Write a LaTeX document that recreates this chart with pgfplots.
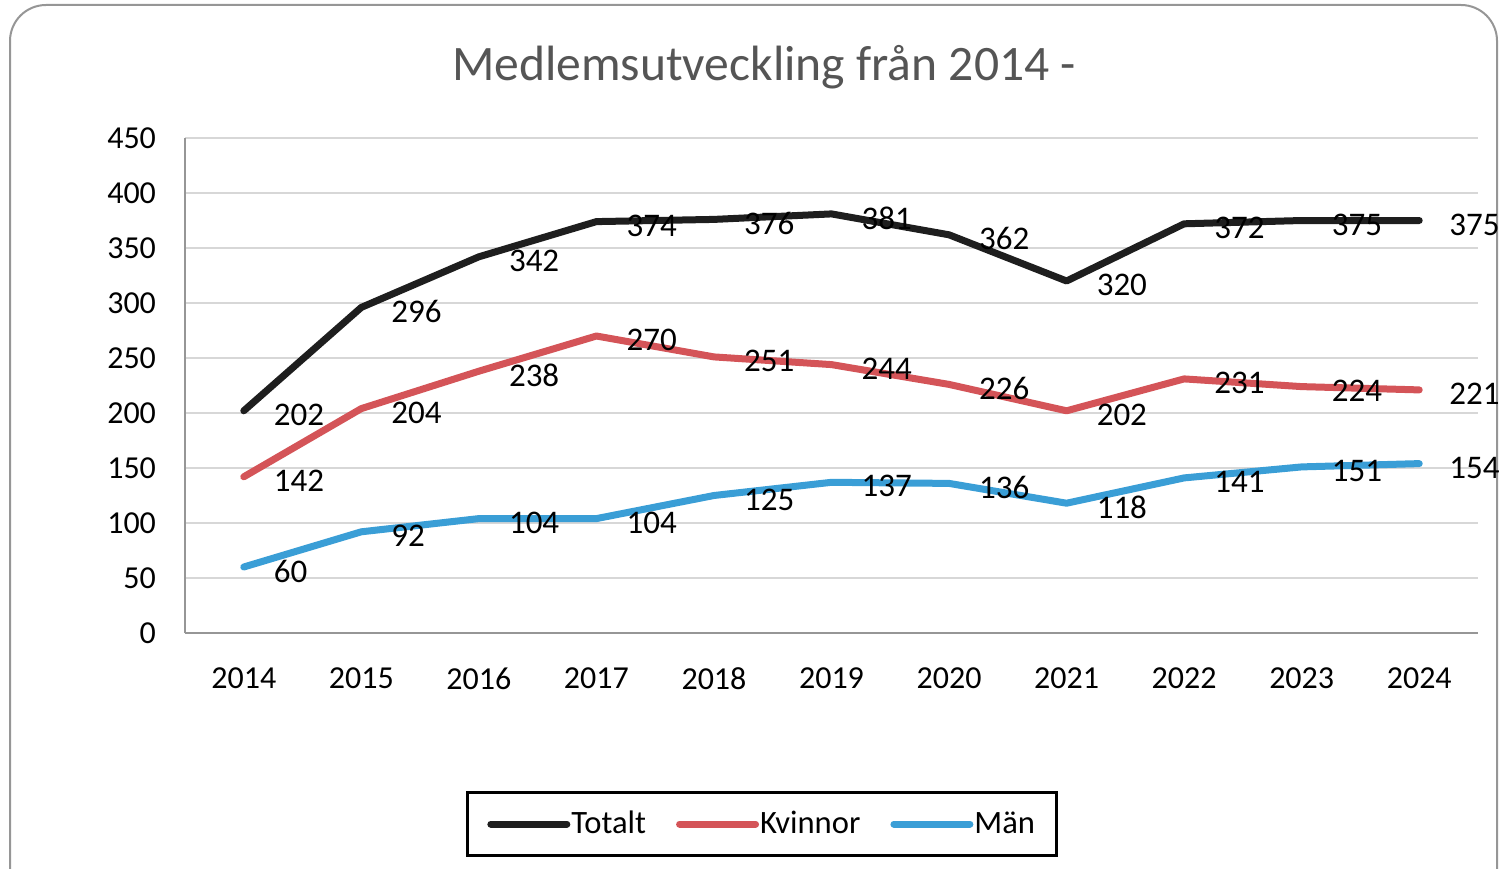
\documentclass[border=0pt]{standalone}
\usepackage{pgfplots}
\pgfplotsset{compat=1.18}
\usepackage{fontspec}
\setmainfont{Carlito}
\definecolor{totc}{RGB}{30,30,30}
\definecolor{kvc}{RGB}{212,84,88}
\definecolor{manc}{RGB}{58,158,214}
\definecolor{titc}{RGB}{85,85,85}
\definecolor{gridc}{RGB}{215,215,215}
\definecolor{axc}{RGB}{150,150,150}
\pgfplotstableread{
x tot kv man
0 202 142 60
1 296 204 92
2 342 238 104
3 374 270 104
4 376 251 125
5 381 244 137
6 362 226 136
7 320 202 118
8 372 231 141
9 375 224 151
10 375 221 154
}\data
\begin{document}
\begin{tikzpicture}[x=1pt,y=1pt]
\clip (0,0) rectangle (751,434);
\useasboundingbox (0,0) rectangle (751,434);
\draw[axc, line width=1pt, rounded corners=18pt] (5,-30) rectangle (748.5,431.5);
\node[titc, font=\fontsize{24.8}{28}\selectfont] at (382,400.5) {Medlemsutveckling från 2014 -};
\begin{axis}[
  at={(92.5pt,117.5pt)}, anchor=south west,
  scale only axis, width=646.5pt, height=247.5pt,
  xmin=-0.5, xmax=10.5, ymin=0, ymax=450,
  xtick=data, xticklabels={2014,2015,2016,2017,2018,2019,2020,2021,2022,2023,2024},
  ytick={0,50,...,450},
  /pgf/number format/assume math mode=true,
  /pgf/number format/1000 sep={},
  tick label style={font=\fontsize{16}{18}\selectfont, black},
  yticklabel style={xshift=-11pt},
  xticklabel style={yshift=-14pt},
  major tick length=0pt,
  ymajorgrids, grid style={gridc, line width=0.8pt},
  axis x line*=bottom, axis y line*=left,
  axis line style={axc, line width=1pt, -},
  clip=false,
  every axis plot/.append style={line width=3.5pt, line join=round, line cap=round, mark=none},
  nodes near coords,
  nodes near coords style={anchor=west, xshift=10pt, yshift=-2pt, black, font=\fontsize{16.5}{18}\selectfont},
  legend columns=3,
  legend style={at={(0.446,-0.386)}, anchor=center, draw=black, line width=1.5pt,
     font=\fontsize{16.3}{19}\selectfont, inner xsep=10pt, inner ysep=7.5pt,
     nodes={inner xsep=0.5pt},
     /tikz/every even column/.append style={column sep=14.5pt}},
  legend image code/.code={\draw[#1, line width=3.5pt] (0pt,0pt) -- (38pt,0pt);},
]
\addplot[totc] table[x=x,y=tot]{\data};
\addlegendentry{Totalt}
\addplot[kvc] table[x=x,y=kv]{\data};
\addlegendentry{Kvinnor}
\addplot[manc] table[x=x,y=man]{\data};
\addlegendentry{Män}
\end{axis}
\end{tikzpicture}
\end{document}
